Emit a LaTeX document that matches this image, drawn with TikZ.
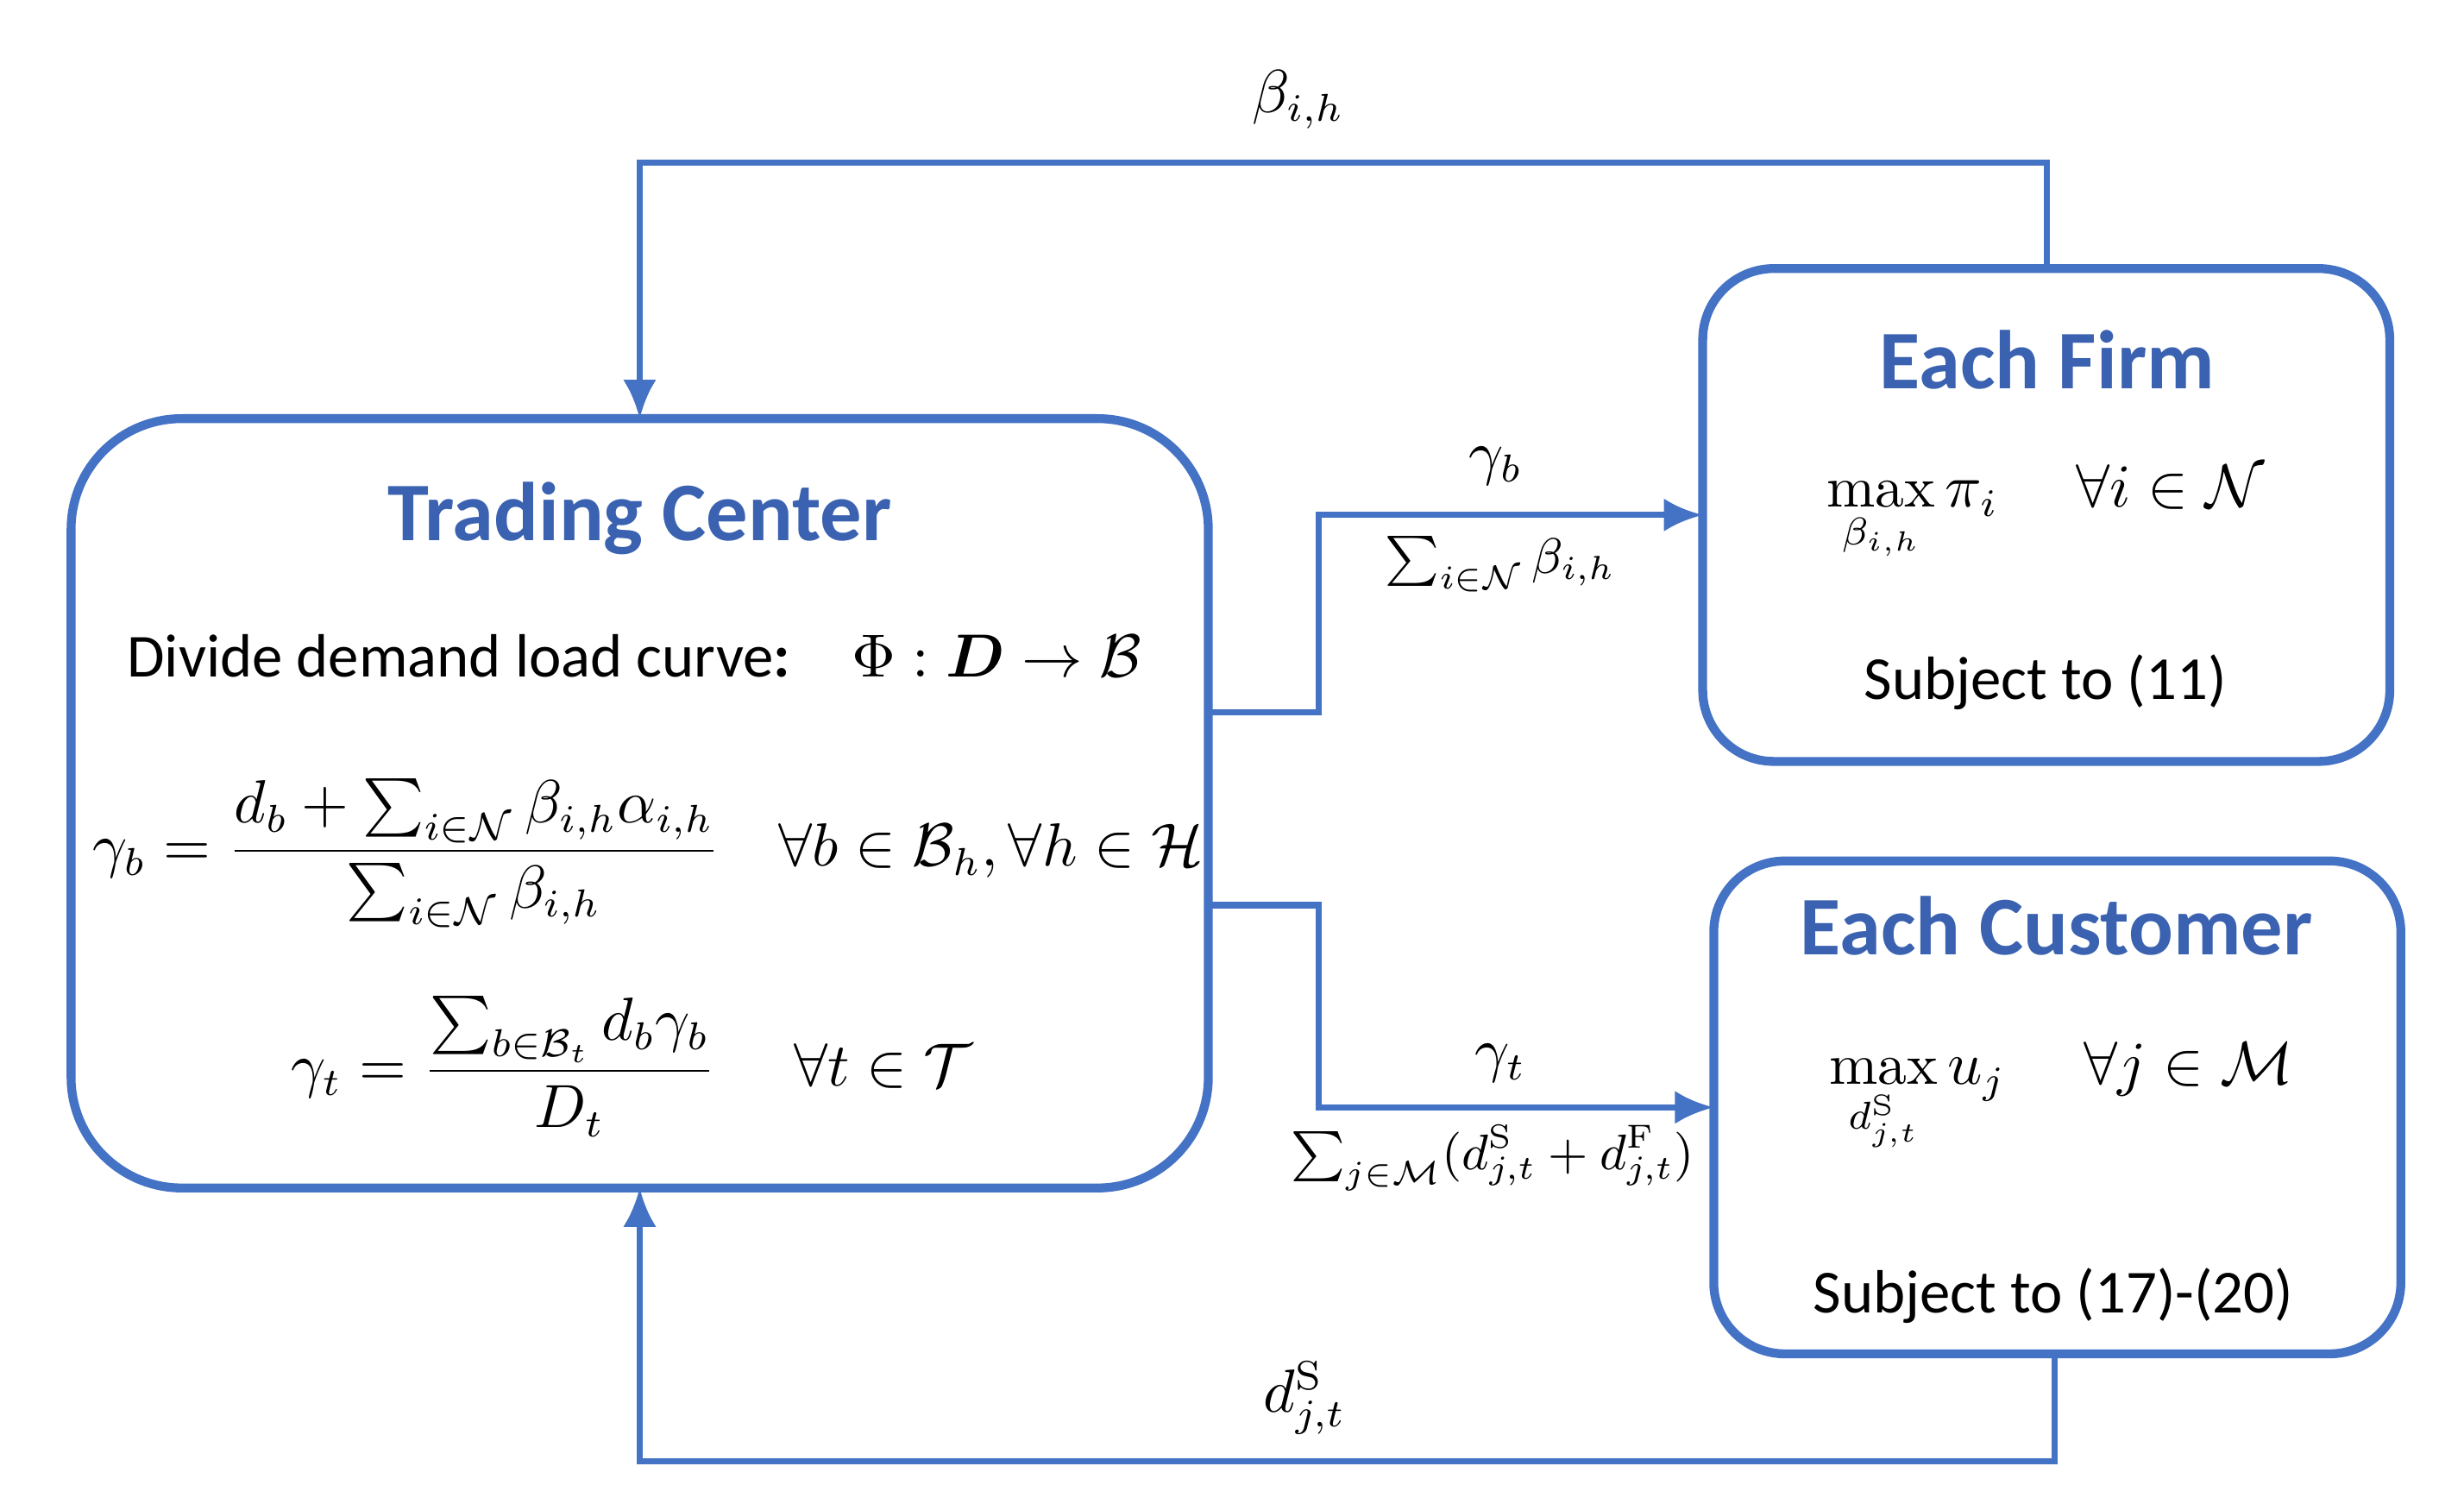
\documentclass[tikz,border=0pt]{standalone}
\usepackage{amsmath,amssymb,bm}
\usepackage{fontspec}
\newfontfamily\carl{Carlito}
\usetikzlibrary{arrows.meta}
\definecolor{bl}{HTML}{4472C4}
\definecolor{tb}{HTML}{3A62B0}
\begin{document}
\begin{tikzpicture}[x=0.01cm,y=-0.01cm,
  box/.style={draw=bl,line width=1.6pt},
  ln/.style={draw=bl,line width=1.1pt},
  arr/.style={ln,-{Latex[length=7pt,width=6pt]}},
  ttl/.style={font=\carl\bfseries\fontsize{15}{18}\selectfont,text=tb},
  txt/.style={font=\carl\fontsize{11}{14}\selectfont},
  mth/.style={font=\fontsize{10.5}{13}\selectfont},
  lbl/.style={font=\fontsize{9}{11}\selectfont}]
\useasboundingbox (0,0) rectangle (1560,952);
\draw[box,rounded corners=0.7cm] (45,265) rectangle (765,752);
\draw[box,rounded corners=0.45cm] (1078,170) rectangle (1513,482);
\draw[box,rounded corners=0.45cm] (1085,545) rectangle (1520,857);
\coordinate (tcT) at (405,265);
\coordinate (tcB) at (405,752);
\coordinate (tcR1) at (765,451);
\coordinate (tcR2) at (765,573);
\coordinate (fT) at (1296,170);
\coordinate (fL) at (1078,326);
\coordinate (cB) at (1301,857);
\coordinate (cL) at (1085,701);
\draw[arr] (fT) |- (405,103) -- (tcT);
\draw[arr] (cB) |- (405,925) -- (tcB);
\draw[arr] (tcR1) -- (835,451) |- (fL);
\draw[arr] (tcR2) -- (835,573) |- (cL);
\node[mth] (lb1) at (822,63) {$\beta_{i,h}$};
\node[mth] (lb2) at (826,885) {$d^{\mathrm{S}}_{j,t}$};
\node[mth] (lb3) at (947,295) {$\gamma_b$};
\node[lbl] (lb4) at (950,357) {$\sum_{i\in\mathcal{N}}\beta_{i,h}$};
\node[mth] (lb5) at (950,673) {$\gamma_t$};
\node[lbl] (lb6) at (945,733) {$\sum_{j\in\mathcal{M}}(d^{\mathrm{S}}_{j,t}+d^{\mathrm{F}}_{j,t})$};
\node[ttl] (t1) at (405,328) {Trading Center};
\node[txt,anchor=west] (d1) at (68,415) {Divide demand load curve\textbf{:}\quad $\Phi:\bm{D}\rightarrow\mathcal{B}$};
\node[mth,anchor=west,inner sep=0pt] (e1) at (58,540) {$\gamma_b=\dfrac{d_b+\sum_{i\in\mathcal{N}}\beta_{i,h}\alpha_{i,h}}{\sum_{i\in\mathcal{N}}\beta_{i,h}}\ \ \ \forall b\in\mathcal{B}_h,\forall h\in\mathcal{H}$};
\node[mth] (e2) at (400,675) {$\gamma_t=\dfrac{\sum_{b\in\mathcal{B}_t}d_b\gamma_b}{D_t}\quad\ \forall t\in\mathcal{T}$};
\node[ttl] (t2) at (1296,228) {Each Firm};
\node[mth] (f1) at (1295,325) {$\max\limits_{\beta_{i,h}}\pi_i\quad\ \forall i\in\mathcal{N}$};
\node[txt] (f2) at (1295,432) {Subject to (11)};
\node[ttl] (t3) at (1302,586) {Each Customer};
\node[mth] (c1) at (1305,695) {$\max\limits_{d^{\mathrm{S}}_{j,t}}u_j\quad\ \forall j\in\mathcal{M}$};
\node[txt] (c2) at (1300,820) {Subject to (17)-(20)};
\end{tikzpicture}
\end{document}
